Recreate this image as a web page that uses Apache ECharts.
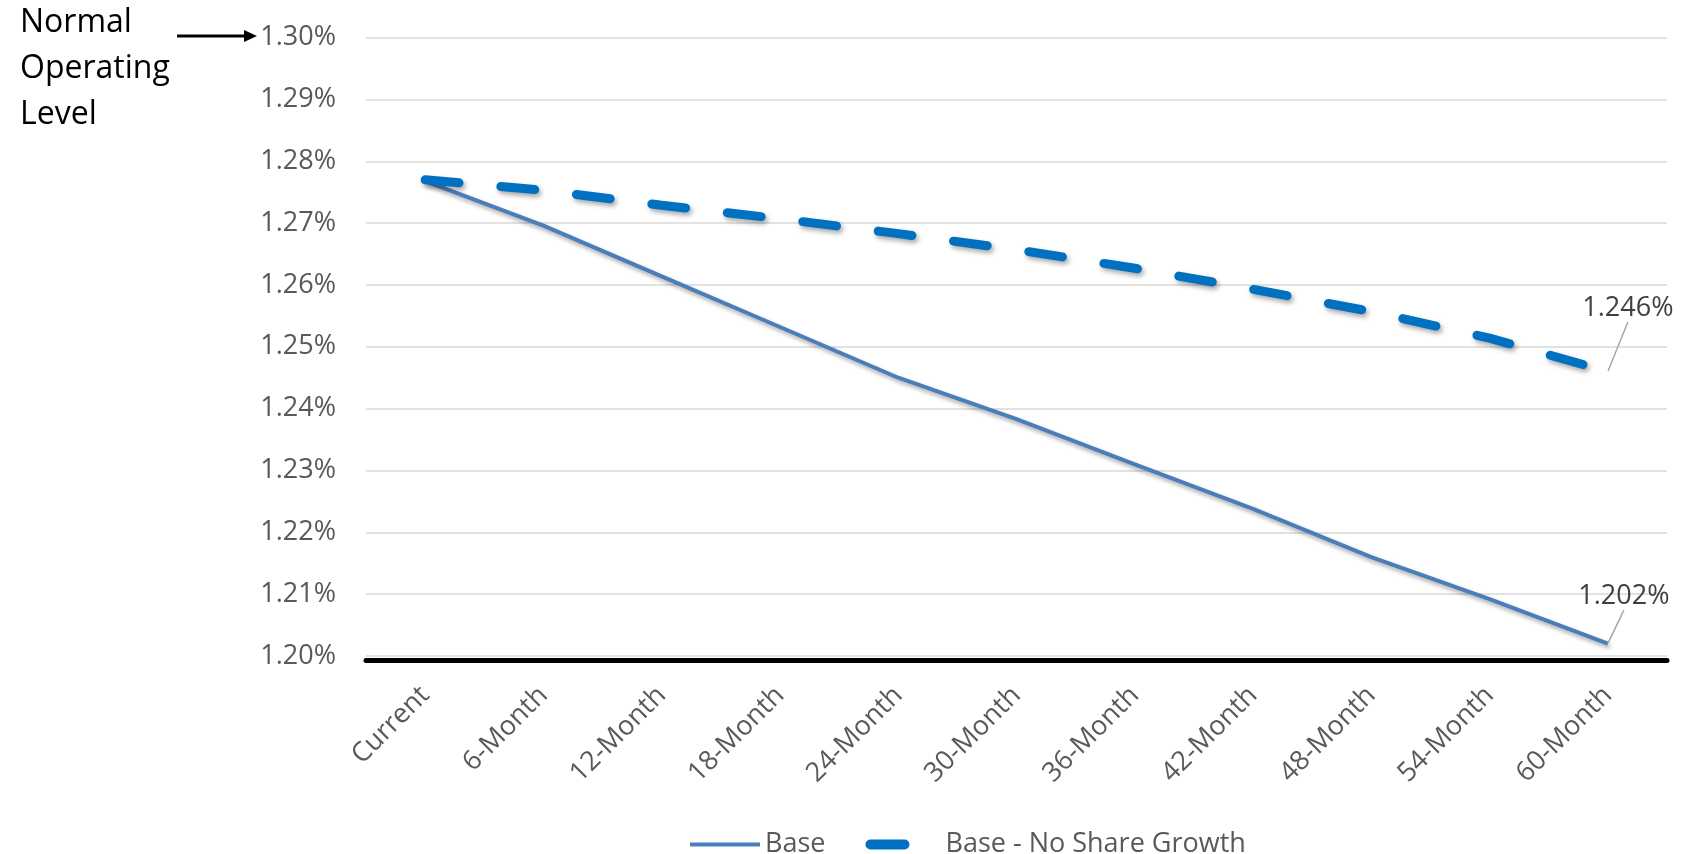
<!DOCTYPE html>
<html>
<head>
<meta charset="utf-8">
<script src="https://cdn.jsdelivr.net/npm/echarts@6/dist/echarts.min.js"></script>
<style>
  html, body { margin: 0; padding: 0; background: #fff; }
  #chart { width: 1684px; height: 854px; }
</style>
</head>
<body>
<div id="chart"></div>
<script>
// Horizon labels along the x axis
const categories = ['Current', '6-Month', '12-Month', '18-Month', '24-Month', '30-Month',
  '36-Month', '42-Month', '48-Month', '54-Month', '60-Month'];

// Ratio (%) under the base projection
const baseValues = [1.2768, 1.2696, 1.2614, 1.2532, 1.2450, 1.2383, 1.2310, 1.2238, 1.2160, 1.2092, 1.2020];

// Ratio (%) with no share growth
const noGrowthValues = [1.2770, 1.2753, 1.2729, 1.2707, 1.2683, 1.2657, 1.2627, 1.2593, 1.2557, 1.2514, 1.2460];

// Value axis range (%)
const yMin = 1.20;
const yMax = 1.30;
const yStep = 0.01;

const FONT = '"Open Sans", "Noto Sans", sans-serif';
const last = categories.length - 1;
const CLEAR = 'rgba(0,0,0,0)';

const BASE_COLOR = '#4A7EBB';
const NOGROWTH_COLOR = '#0070C0';
const NOGROWTH_DASH = [34, 42];

// Only the final point of each series carries a value label
function endLabelData(values, digits) {
  return values.map((v, i) => i === last
    ? { value: v, label: { show: true, formatter: v.toFixed(digits) + '%' } }
    : v);
}

const valueLabel = {
  show: false,
  position: 'top',
  distance: 5,
  fontFamily: FONT,
  fontSize: 27,
  color: '#404040'
};
const guideLine = { show: true, lineStyle: { color: '#A6A6A6', width: 1.5 } };

const chart = echarts.init(document.getElementById('chart'), null, { renderer: 'canvas' });

chart.setOption({
  animation: false,
  backgroundColor: '#ffffff',
  grid: { left: 366, right: 17, top: 37.6, bottom: 198 },
  legend: {
    left: 683,
    top: 826,
    itemWidth: 70,
    itemHeight: 30,
    itemGap: 40,
    itemStyle: { opacity: 0 },
    textStyle: { fontFamily: FONT, fontSize: 27, color: '#595959' },
    data: [
      { name: 'Base', lineStyle: { color: BASE_COLOR, width: 4, type: 'solid' } },
      { name: 'Base - No Share Growth', lineStyle: { color: NOGROWTH_COLOR, width: 10, type: NOGROWTH_DASH, cap: 'round' } }
    ]
  },
  xAxis: {
    type: 'category',
    data: categories,
    boundaryGap: true,
    offset: 4,
    axisLine: { show: true, lineStyle: { color: '#000000', width: 5 } },
    axisTick: { show: false },
    axisLabel: {
      rotate: 45,
      margin: 31,
      fontFamily: FONT,
      fontSize: 27,
      color: '#595959'
    },
    splitLine: { show: false }
  },
  yAxis: {
    type: 'value',
    min: yMin,
    max: yMax,
    interval: yStep,
    axisLine: { show: false },
    axisTick: { show: false },
    axisLabel: {
      margin: 30,
      fontFamily: FONT,
      fontSize: 27,
      color: '#595959',
      formatter: v => v.toFixed(2) + '%'
    },
    splitLine: { lineStyle: { color: '#D9D9D9', width: 1.5 } }
  },
  series: [
    {
      name: 'Base',
      type: 'line',
      data: endLabelData(baseValues, 3),
      symbol: 'circle',
      symbolSize: 1,
      showSymbol: true,
      z: 3,
      lineStyle: {
        color: BASE_COLOR,
        width: 4,
        shadowColor: 'rgba(0,0,0,0.35)',
        shadowBlur: 4,
        shadowOffsetX: 2,
        shadowOffsetY: 3
      },
      itemStyle: { color: CLEAR },
      label: valueLabel,
      labelLine: guideLine,
      labelLayout: p => p.dataIndex === last ? { dx: 16, dy: -28 } : {},
      emphasis: { disabled: true }
    },
    {
      name: 'Base - No Share Growth',
      type: 'line',
      data: endLabelData(noGrowthValues, 3),
      symbol: 'circle',
      symbolSize: 1,
      showSymbol: true,
      z: 4,
      lineStyle: {
        color: NOGROWTH_COLOR,
        width: 9,
        type: NOGROWTH_DASH,
        cap: 'round',
        shadowColor: 'rgba(0,0,0,0.35)',
        shadowBlur: 5,
        shadowOffsetX: 2,
        shadowOffsetY: 3
      },
      itemStyle: { color: CLEAR },
      label: valueLabel,
      labelLine: guideLine,
      labelLayout: p => p.dataIndex === last ? { dx: 20, dy: -44 } : {},
      emphasis: { disabled: true }
    }
  ],
  graphic: [
    {
      type: 'text',
      left: 20,
      top: 0,
      style: {
        text: 'Normal\nOperating\nLevel',
        fontFamily: FONT,
        fontSize: 32,
        lineHeight: 46,
        fill: '#000000'
      }
    },
    {
      type: 'line',
      shape: { x1: 177, y1: 36, x2: 247, y2: 36 },
      style: { stroke: '#000000', lineWidth: 3 }
    },
    {
      type: 'polygon',
      shape: { points: [[244, 30], [257, 36], [244, 42]] },
      style: { fill: '#000000' }
    }
  ]
});
</script>
</body>
</html>
